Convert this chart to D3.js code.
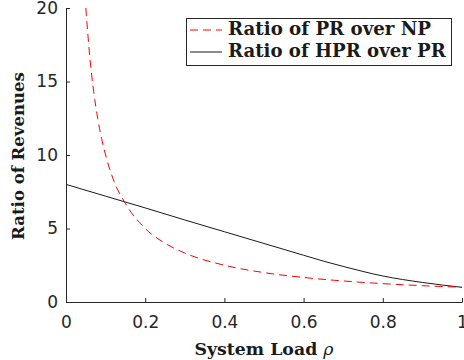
<!DOCTYPE html>
<html>
<head>
<meta charset="utf-8">
<script src="https://cdn.jsdelivr.net/npm/d3@7"></script>
<style>
  body { margin: 0; background: #fff; }
  svg { display: block; }
</style>
</head>
<body>
<script>
// values
const rho_pr = [0.05, 0.06, 0.07, 0.08, 0.09, 0.1, 0.12, 0.15, 0.2, 0.25, 0.3, 0.4, 0.5, 0.6, 0.7, 0.8, 0.9, 1.0];
const ratio_pr_np = [20, 16.7, 14.3, 12.5, 11.1, 10, 8.3, 6.7, 5, 4, 3.33, 2.5, 2, 1.67, 1.43, 1.25, 1.11, 1.0];

const rho_hpr = [0, 0.1, 0.2, 0.3, 0.4, 0.5, 0.6, 0.65, 0.7, 0.8, 0.9, 1.0];
const ratio_hpr_pr = [8, 7.2, 6.4, 5.58, 4.78, 3.98, 3.18, 2.78, 2.42, 1.77, 1.33, 1.0];

const x_ticks = [0, 0.2, 0.4, 0.6, 0.8, 1];
const y_ticks = [0, 5, 10, 15, 20];
const legend_labels = ["Ratio of PR over NP", "Ratio of HPR over PR"];

const width = 464;
const height = 360;
const plot_left = 66;
const plot_right = 462;
const plot_top = 8;
const plot_bottom = 302;
const axis_color = "#262626";
const tick_font = "'DejaVu Sans', sans-serif";
const label_font = "'DejaVu Serif', serif";

const svg = d3.select("body").append("svg")
    .attr("width", width)
    .attr("height", height);

const x = d3.scaleLinear().domain([0, 1]).range([plot_left, plot_right]);
const y = d3.scaleLinear().domain([0, 20]).range([plot_bottom, plot_top]);

svg.append("clipPath").attr("id", "clip")
  .append("rect")
    .attr("x", plot_left)
    .attr("y", plot_top)
    .attr("width", plot_right - plot_left)
    .attr("height", plot_bottom - plot_top);

// curves
const pr_pts = rho_pr.map((r, i) => [r, ratio_pr_np[i]]);
const hpr_pts = rho_hpr.map((r, i) => [r, ratio_hpr_pr[i]]);

const line = d3.line()
    .x(d => x(d[0]))
    .y(d => y(d[1]))
    .curve(d3.curveMonotoneX);

svg.append("path")
    .datum(hpr_pts)
    .attr("clip-path", "url(#clip)")
    .attr("fill", "none")
    .attr("stroke", "#1a1a1a")
    .attr("stroke-width", 1)
    .attr("d", line);

svg.append("path")
    .datum(pr_pts)
    .attr("clip-path", "url(#clip)")
    .attr("fill", "none")
    .attr("stroke", "#ff0000")
    .attr("stroke-width", 1)
    .attr("stroke-dasharray", "8,5")
    .attr("d", line);

// axes, ticks pointing inward like matlab
const xAxis = svg.append("g")
    .attr("transform", `translate(0,${plot_bottom})`)
    .call(d3.axisBottom(x).tickValues(x_ticks).tickFormat(d3.format("")).tickSizeInner(-4).tickSizeOuter(0).tickPadding(14));

const yAxis = svg.append("g")
    .attr("transform", `translate(${plot_left},0)`)
    .call(d3.axisLeft(y).tickValues(y_ticks).tickSizeInner(-4).tickSizeOuter(0).tickPadding(8));

[xAxis, yAxis].forEach(a => {
    a.select(".domain").attr("stroke", axis_color);
    a.selectAll(".tick line").attr("stroke", axis_color);
    a.selectAll(".tick text")
        .attr("fill", axis_color)
        .style("font-family", tick_font)
        .style("font-size", "17px");
});

// shrink/grow a label so it spans the same width as in the picture
function fitWidth(sel, target) {
    const w = sel.node().getComputedTextLength();
    const fs = parseFloat(sel.style("font-size"));
    sel.style("font-size", (fs * target / w).toFixed(2) + "px");
}

// axis labels
const xlab = svg.append("text")
    .attr("x", (plot_left + plot_right) / 2)
    .attr("y", 355)
    .attr("text-anchor", "middle")
    .style("font-family", label_font)
    .style("font-weight", "bold")
    .style("font-size", "15px")
    .attr("fill", "#1a1a1a")
    .text("System Load ");
xlab.append("tspan")
    .style("font-style", "italic")
    .style("font-weight", "normal")
    .text("ρ");
fitWidth(xlab, 139);

const ylab = svg.append("text")
    .attr("transform", `translate(24,${(plot_top + plot_bottom) / 2 + 1}) rotate(-90)`)
    .attr("text-anchor", "middle")
    .style("font-family", label_font)
    .style("font-weight", "bold")
    .style("font-size", "15px")
    .attr("fill", "#1a1a1a")
    .text("Ratio of Revenues");
fitWidth(ylab, 168);

// legend
const legend = svg.append("g");
legend.append("rect")
    .attr("x", 186.5)
    .attr("y", 18.5)
    .attr("width", 265)
    .attr("height", 47)
    .attr("fill", "#fff")
    .attr("stroke", axis_color)
    .attr("stroke-width", 1);

const legend_rows = [
    {label: legend_labels[0], color: "#ff0000", dash: "8,5", y: 30, w: 203},
    {label: legend_labels[1], color: "#1a1a1a", dash: null, y: 52, w: 218}
];

legend_rows.forEach(r => {
    legend.append("line")
        .attr("x1", 190).attr("x2", 222)
        .attr("y1", r.y).attr("y2", r.y)
        .attr("stroke", r.color)
        .attr("stroke-width", 1)
        .attr("stroke-dasharray", r.dash);
    const t = legend.append("text")
        .attr("x", 228)
        .attr("y", r.y + 5)
        .style("font-family", label_font)
        .style("font-weight", "bold")
        .style("font-size", "16px")
        .attr("fill", "#1a1a1a")
        .text(r.label);
    fitWidth(t, r.w);
});
</script>
</body>
</html>
